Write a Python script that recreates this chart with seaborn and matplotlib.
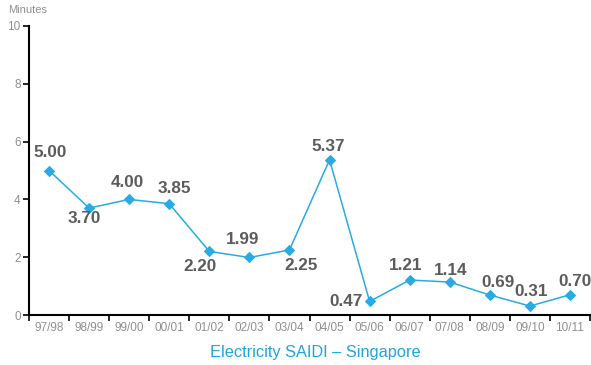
import matplotlib
matplotlib.use("Agg")
import matplotlib.pyplot as plt
import seaborn as sns
import pandas as pd
from matplotlib.ticker import FixedLocator

periods = ["97/98", "98/99", "99/00", "00/01", "01/02", "02/03", "03/04",
           "04/05", "05/06", "06/07", "07/08", "08/09", "09/10", "10/11"]
saidi = [5.00, 3.70, 4.00, 3.85, 2.20, 1.99, 2.25,
         5.37, 0.47, 1.21, 1.14, 0.69, 0.31, 0.70]
y_ticks = [0, 2, 4, 6, 8, 10]

# label offsets (pixels) so labels sit clear of the line
label_offsets = [(1, 18), (-5, -10), (-2, 17), (5, 15), (-9, -15),
                 (-7, 18), (12, -16), (-1, 13), (-24, 0), (-4, 15),
                 (1, 12), (8, 13), (1, 15), (5, 13)]

sns.set_theme(style="white")
plt.rcParams["font.family"] = ["Liberation Sans", "DejaVu Sans"]

BLUE = "#29abe2"
GRAY = "#8f8f8f"
DARK = "#5c5c5c"

df = pd.DataFrame({"idx": range(len(periods)), "saidi": saidi})

fig = plt.figure(figsize=(5.91, 3.65), dpi=100)
ax = fig.add_axes([29 / 591, 50 / 365, 561 / 591, 289 / 365])

sns.lineplot(data=df, x="idx", y="saidi", ax=ax, color=BLUE, linewidth=1.1,
             marker="D", markersize=5.2, markeredgecolor=BLUE)

px = 72 / fig.dpi
for i, (v, (dx, dy)) in enumerate(zip(saidi, label_offsets)):
    ax.annotate(f"{v:.2f}", (i, v), xytext=(dx * px, dy * px),
                textcoords="offset points", ha="center", va="center",
                fontsize=12.3, fontweight="bold", color=DARK)

ax.set_xlim(-0.5, len(periods) - 0.5)
ax.set_ylim(0, 10)
ax.set_yticks(y_ticks)
ax.set_yticklabels([str(t) for t in y_ticks])
ax.set_xticks(range(len(periods)))
ax.set_xticklabels(periods)
ax.xaxis.set_minor_locator(FixedLocator([i - 0.5 for i in range(len(periods) + 1)]))

ax.tick_params(axis="x", which="major", length=0, pad=5, labelsize=8.5, labelcolor=GRAY)
ax.tick_params(axis="x", which="minor", length=4, width=1.2, color="black",
               direction="out", bottom=True)
ax.tick_params(axis="y", which="major", length=4, width=1.2, color="black",
               direction="out", left=True, pad=2, labelsize=8.5, labelcolor=GRAY)

for side in ["top", "right"]:
    ax.spines[side].set_visible(False)
for side in ["left", "bottom"]:
    ax.spines[side].set_color("black")
    ax.spines[side].set_linewidth(1.5)

ax.set_xlabel("")
ax.set_ylabel("")
ax.grid(False)

fig.text(8 / 591, 1 - 10 / 365, "Minutes", ha="left", va="center",
         fontsize=8, color=GRAY)
fig.text(315 / 591, 1 - 353 / 365, "Electricity SAIDI \u2013 Singapore",
         ha="center", va="center", fontsize=11.8, color="#1ca6e0")

fig.savefig("out.png", dpi=100)
